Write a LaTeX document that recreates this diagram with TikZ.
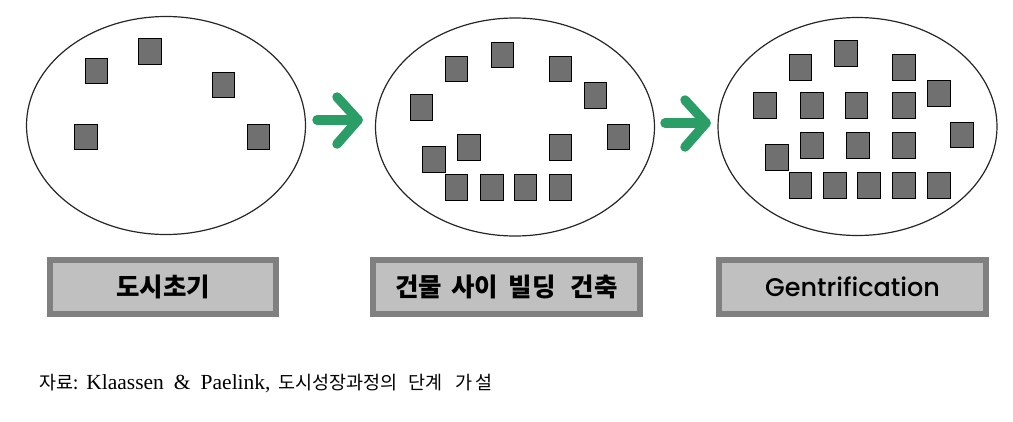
\documentclass[tikz,border=0pt]{standalone}
\usepackage{fontspec}
\usetikzlibrary{shapes.geometric}
\setmainfont{Liberation Serif}
\newfontfamily\krsans{Noto Sans CJK KR}
\newfontfamily\gent{Poppins Medium}
\definecolor{sqfill}{RGB}{112,112,112}
\definecolor{lblborder}{RGB}{128,128,128}
\definecolor{lblfill}{RGB}{192,192,192}
\definecolor{arrowgreen}{RGB}{43,158,104}
\newcommand{\krcap}{\krsans\fontsize{18.5pt}{21pt}\selectfont}
\tikzset{
  blk/.style={draw=black, fill=sqfill, line width=1.2pt, minimum width=22.5pt, minimum height=25.5pt, inner sep=0pt},
  city/.style={ellipse, draw=black!85, line width=1.2pt, minimum width=279pt, minimum height=218pt, inner sep=0pt},
  lbl/.style={draw=lblborder, fill=lblfill, line width=6pt, minimum width=226pt, minimum height=54pt, inner sep=0pt},
  widelbl/.style={lbl, minimum width=267pt},
  krlabel/.style={font=\krsans\bfseries\fontsize{25.5pt}{28pt}\selectfont},
  growarrow/.style={draw=arrowgreen, line width=9.5pt, line cap=round, line join=round}
}
\begin{document}
\begin{tikzpicture}[x=1pt, y=-1pt]
\useasboundingbox (0,0) rectangle (1013,421);
% ellipses
\node[city] (e1) at (166,125.5) {};
\node[city] (e2) at (515,127) {};
\node[city] (e3) at (857.5,126.5) {};
% stage 1 buildings
\node[blk] (s1a) at (96.5,71) {};
\node[blk] (s1b) at (150,51.5) {};
\node[blk] (s1c) at (223.5,85) {};
\node[blk] (s1d) at (86,137) {};
\node[blk] (s1e) at (258.5,137) {};
% stage 2 buildings
\node[blk] (s2a) at (456.5,69) {};
\node[blk] (s2b) at (502.5,55) {};
\node[blk] (s2c) at (560.5,69) {};
\node[blk] (s2d) at (595.5,95.5) {};
\node[blk] (s2e) at (421.5,107.5) {};
\node[blk] (s2f) at (618.5,137) {};
\node[blk] (s2g) at (469,147.5) {};
\node[blk] (s2h) at (560.5,147.5) {};
\node[blk] (s2i) at (434,159.5) {};
\node[blk] (s2j) at (456.5,187.5) {};
\node[blk] (s2k) at (492,187.5) {};
\node[blk] (s2l) at (525.5,187.5) {};
\node[blk] (s2m) at (560.5,187.5) {};
% stage 3 buildings
\node[blk] (s3a) at (800.5,67.5) {};
\node[blk] (s3b) at (846,53.5) {};
\node[blk] (s3c) at (904,67.5) {};
\node[blk] (s3d) at (939,93.5) {};
\node[blk] (s3e) at (765,105.5) {};
\node[blk] (s3f) at (812,105.5) {};
\node[blk] (s3g) at (856.5,105.5) {};
\node[blk] (s3h) at (904,105.5) {};
\node[blk] (s3i) at (962,135) {};
\node[blk] (s3j) at (812,145.5) {};
\node[blk] (s3k) at (858,145.5) {};
\node[blk] (s3l) at (904,145.5) {};
\node[blk] (s3m) at (777,157.5) {};
\node[blk] (s3n) at (800.5,185.5) {};
\node[blk] (s3o) at (835,185.5) {};
\node[blk] (s3p) at (869,185.5) {};
\node[blk] (s3q) at (904,185.5) {};
\node[blk] (s3r) at (939,185.5) {};
% arrows
\coordinate (a1s) at (317,120);
\coordinate (a1t) at (358,120);
\coordinate (a1u) at (337,97);
\coordinate (a1d) at (337,144);
\draw[growarrow] (a1s) -- (a1t);
\draw[growarrow] (a1u) -- (a1t) -- (a1d);
\coordinate (a2s) at (665,123);
\coordinate (a2t) at (706,123);
\coordinate (a2u) at (685,100);
\coordinate (a2d) at (685,147);
\draw[growarrow] (a2s) -- (a2t);
\draw[growarrow] (a2u) -- (a2t) -- (a2d);
% labels
\node[lbl, krlabel] (l1) at (163,287) {도시초기};
\node[widelbl, krlabel] (l2) at (506.5,287) {건물\hspace{9pt}사이\hspace{11pt}빌딩\hspace{15pt}건축};
\node[widelbl, font=\gent\fontsize{25.5pt}{28pt}\selectfont] (l3) at (852.5,287) {Gentrification};
% caption
\node[anchor=base west, inner sep=0pt, font=\fontsize{21.5pt}{24pt}\selectfont] (cap) at (39,389)
  {{\krcap 자료:}\hspace{8pt}Klaassen\hspace{10pt}\&\hspace{10pt}Paelink,\hspace{8pt}{\krcap 도시성장과정의\hspace{11pt}단계\hspace{13pt}가\hspace{3pt}설}};
\end{tikzpicture}
\end{document}
